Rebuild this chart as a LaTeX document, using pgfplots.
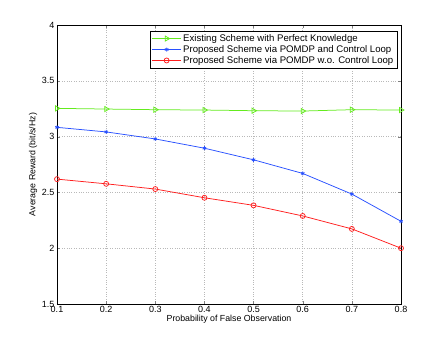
\documentclass[border=0pt]{standalone}
\usepackage{pgfplots}
\pgfplotsset{compat=1.18}
\usepackage{fontspec}
\setmainfont{Liberation Sans}
\definecolor{mgreen}{RGB}{100,235,30}
\definecolor{mblue}{RGB}{40,80,255}
\definecolor{mred}{RGB}{255,30,30}
\begin{document}
\begin{tikzpicture}
\begin{axis}[
  scale only axis,
  width=344pt, height=279pt,
  xmin=0.1, xmax=0.8, ymin=1.5, ymax=4,
  xtick={0.1,0.2,...,0.8}, ytick={1.5,2,...,4},
  xticklabels={0.1,0.2,0.3,0.4,0.5,0.6,0.7,0.8},
  yticklabels={1.5,2,2.5,3,3.5,4},
  tick align=inside, tick pos=both,
  major tick length=3pt,
  grid=major,
  major grid style={dotted, gray!55, line width=0.5pt},
  axis line style={line width=0.6pt},
  tick label style={font=\fontsize{9}{10}\selectfont},
  xticklabel style={yshift=1pt},
  yticklabel style={xshift=1pt},
  label style={font=\fontsize{8.8}{10}\selectfont},
  xlabel={Probability of False Observation},
  ylabel={Average Reward (bit/s/Hz)},
  xlabel style={yshift=5pt},
  ylabel style={yshift=-2pt},
  legend style={at={(rel axis cs:0.9885,0.98)}, anchor=north east,
    font=\fontsize{9.6}{11}\selectfont, draw=black, line width=0.5pt,
    inner sep=1.5pt, row sep=-1.5pt, cells={anchor=west}},
  legend image code/.code={%
    \draw[mark repeat=2,mark phase=2,#1]
      plot coordinates {(0cm,0cm) (0.5cm,0cm) (1cm,0cm)};},
  legend image post style={line width=0.75pt},
]
\addplot[color=mgreen, line width=0.75pt, mark=triangle, mark options={rotate=-90, solid}, mark size=3pt]
  coordinates {(0.1,3.253) (0.2,3.247) (0.3,3.241) (0.4,3.238) (0.5,3.232) (0.6,3.229) (0.7,3.241) (0.8,3.238)};
\addlegendentry{Existing Scheme with Perfect Knowledge}
\addplot[color=mblue, line width=0.75pt, mark=asterisk, mark size=2pt]
  coordinates {(0.1,3.083) (0.2,3.042) (0.3,2.979) (0.4,2.896) (0.5,2.792) (0.6,2.670) (0.7,2.485) (0.8,2.241)};
\addlegendentry{Proposed Scheme via POMDP and Control Loop}
\addplot[color=mred, line width=0.75pt, mark=o, mark size=2.5pt]
  coordinates {(0.1,2.619) (0.2,2.577) (0.3,2.530) (0.4,2.452) (0.5,2.384) (0.6,2.289) (0.7,2.173) (0.8,2.000)};
\addlegendentry{Proposed Scheme via POMDP w.o. Control Loop}
\coordinate (sw) at (rel axis cs:0,0);
\end{axis}
\path (sw) ++(-57pt,-39pt) rectangle ++(443pt,343pt);
\end{tikzpicture}
\end{document}
